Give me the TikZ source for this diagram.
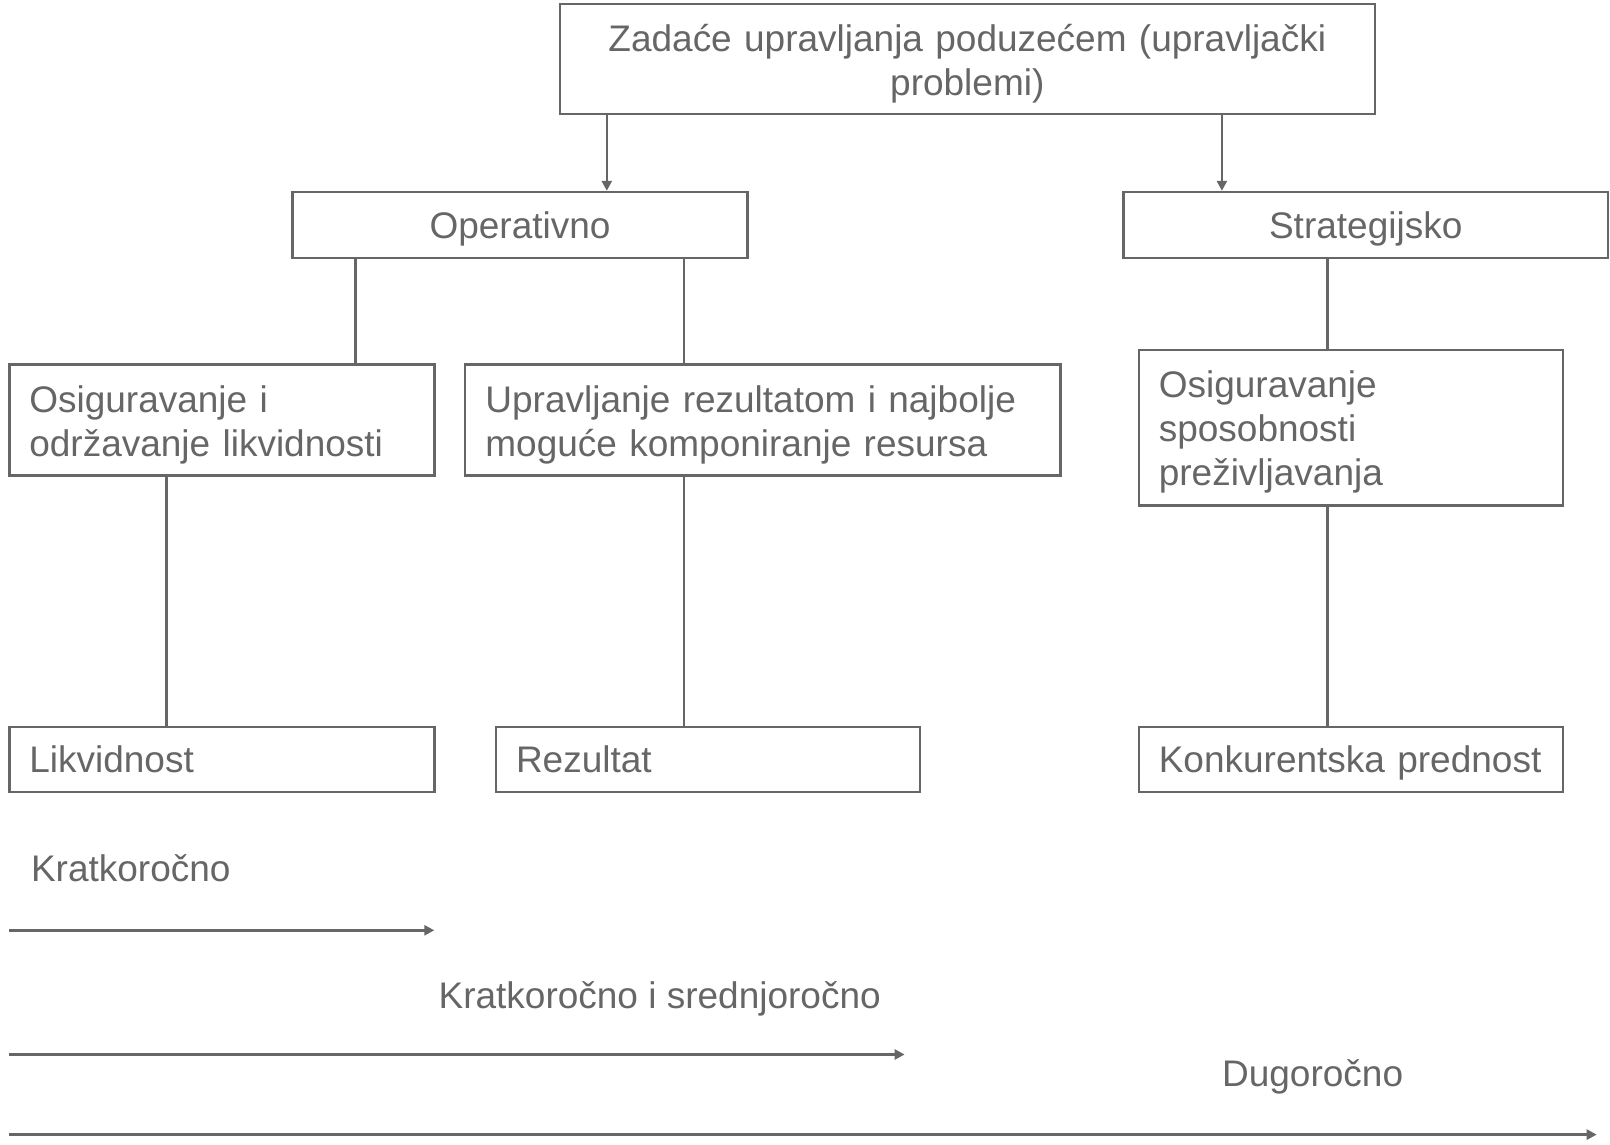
\documentclass[tikz,border=0pt]{standalone}
\usepackage{fontspec}
\setmainfont{Liberation Sans}
\usetikzlibrary{arrows.meta}
\definecolor{ink}{RGB}{102,102,102}
\tikzset{
  box/.style={draw=ink, line width=2.5pt, rectangle, inner sep=0pt, text=ink,
    font={\fontsize{37}{44}\selectfont}},
  one/.style={text depth=0pt},
  multi/.style={text height=36pt},
  lbox/.style={box, align=left, inner xsep=20pt},
  lbl/.style={inner sep=0pt, text=ink, font={\fontsize{37}{44}\selectfont}, anchor=base west},
  conn/.style={draw=ink, line width=2.5pt},
  arr/.style={conn, -{Triangle[length=10pt,width=10pt]}}
}
\begin{document}
\begin{tikzpicture}[x=1pt,y=-1pt]
\useasboundingbox (0,0) rectangle (1610,1145);
% boxes
\node[box, multi, align=center, minimum width=815pt, minimum height=110pt, text width=790pt] (top) at (967.3,59) {Zadaće upravljanja poduzećem (upravljački\\problemi)};
\node[box, one, minimum width=455pt, minimum height=65.7pt] (op) at (520,224.9) {Operativno};
\node[box, one, minimum width=484.7pt, minimum height=65.7pt] (st) at (1365.7,224.9) {Strategijsko};
\node[lbox, multi, minimum width=425.1pt, minimum height=111pt, text width=385pt] (osl) at (221.8,420) {Osiguravanje i\\održavanje likvidnosti};
\node[lbox, multi, minimum width=595.6pt, minimum height=111pt, text width=555pt] (upr) at (762.9,420) {Upravljanje rezultatom i najbolje\\moguće komponiranje resursa};
\node[lbox, multi, minimum width=424.1pt, minimum height=155.1pt, text width=384pt] (oss) at (1350.8,427.7) {Osiguravanje\\sposobnosti\\preživljavanja};
\node[lbox, one, minimum width=425.1pt, minimum height=64.7pt, text width=385pt] (lik) at (221.8,759.4) {Likvidnost};
\node[lbox, one, minimum width=424.1pt, minimum height=64.7pt, text width=384pt] (rez) at (708,759.4) {Rezultat};
\node[lbox, one, minimum width=424.1pt, minimum height=64.7pt, text width=384pt] (kon) at (1350.8,759.4) {Konkurentska prednost};
% x guides
\coordinate (xa) at (606.8,0);
\coordinate (xb) at (1221.9,0);
\coordinate (xc) at (355.3,0);
\coordinate (xd) at (683.8,0);
\coordinate (xe) at (1327.7,0);
\coordinate (xf) at (166.3,0);
% connectors
\draw[arr] (top.south -| xa) -- (op.north -| xa);
\draw[arr] (top.south -| xb) -- (st.north -| xb);
\draw[conn] (op.south -| xc) -- (osl.north -| xc);
\draw[conn] (op.south -| xd) -- (upr.north -| xd);
\draw[conn] (st.south -| xe) -- (oss.north -| xe);
\draw[conn] (osl.south -| xf) -- (lik.north -| xf);
\draw[conn] (upr.south -| xd) -- (rez.north -| xd);
\draw[conn] (oss.south -| xe) -- (kon.north -| xe);
% time scale
\node[lbl] (k1) at (30.8,881.7) {Kratkoročno};
\node[lbl] (k2) at (438.4,1008) {Kratkoročno i srednjoročno};
\node[lbl] (k3) at (1221.9,1086) {Dugoročno};
\coordinate (a1s) at (9.2,930.3);
\coordinate (a1e) at (434.3,930.3);
\coordinate (a2s) at (9.2,1054.5);
\coordinate (a2e) at (904.6,1054.5);
\coordinate (a3s) at (9.2,1134.6);
\coordinate (a3e) at (1596.7,1134.6);
\draw[arr] (a1s) -- (a1e);
\draw[arr] (a2s) -- (a2e);
\draw[arr] (a3s) -- (a3e);
\end{tikzpicture}
\end{document}
